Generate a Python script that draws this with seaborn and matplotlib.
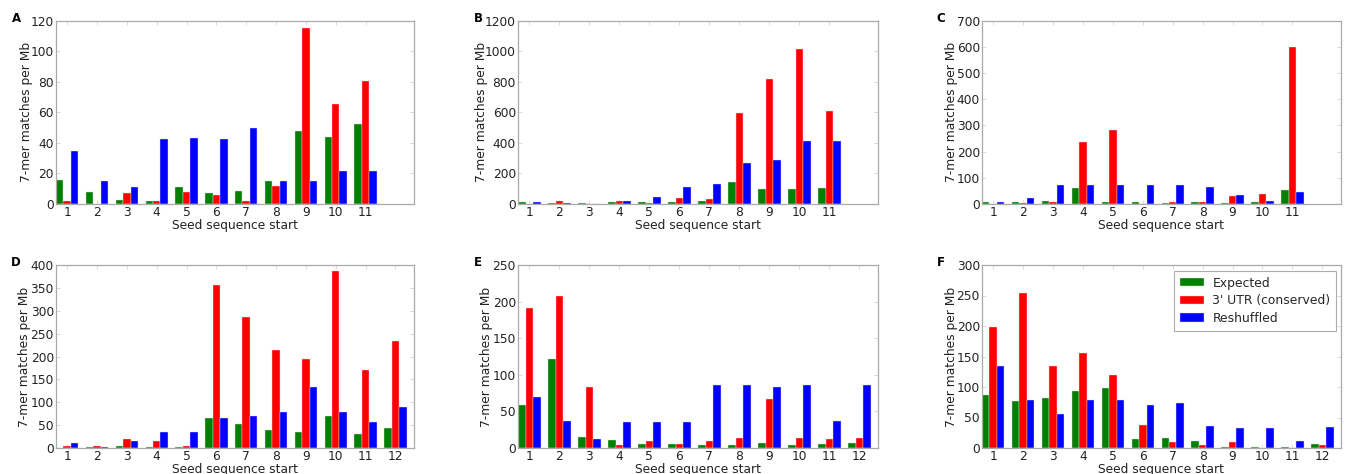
import numpy as np
import pandas as pd
import matplotlib
matplotlib.use("Agg")
import matplotlib.pyplot as plt
import seaborn as sns

series_names = ["Expected", "3' UTR (conserved)", "Reshuffled"]
colors = ["#008000", "#ff0000", "#0000ff"]

# Panel A
A_exp = [15.7, 8.1, 2.4, 2.0, 10.9, 7.0, 8.5, 14.8, 47.6, 43.9, 52.1]
A_utr = [2.0, 0.0, 7.2, 1.7, 7.9, 5.9, 1.7, 12.0, 115.0, 65.7, 80.3]
A_res = [34.9, 14.8, 10.9, 42.3, 43.0, 42.3, 49.5, 14.8, 14.8, 21.8, 21.8]
# Panel B
B_exp = [10, 6, 6, 12, 10, 10, 17, 142, 100, 98, 102]
B_utr = [2, 22, 0, 17, 6, 40, 30, 598, 820, 1012, 607]
B_res = [13, 6, 3, 17, 44, 109, 129, 266, 290, 412, 412]
# Panel C
C_exp = [9, 8, 11.5, 61, 6, 6, 5, 8, 5, 8, 54]
C_utr = [1, 5, 8, 237.5, 283.5, 1, 6, 8, 32, 40, 600]
C_res = [8, 24, 71.5, 71.5, 71.5, 71.5, 74, 64, 33, 13, 47]
# Panel D
D_exp = [1, 1.5, 3.6, 3, 1.5, 66, 53, 39, 35.6, 71, 31, 43]
D_utr = [4.4, 5, 19.6, 16, 4.4, 356, 286, 214.5, 195.6, 386, 171, 234]
D_res = [11.6, 3, 14.5, 34, 34, 66, 69, 78.5, 134, 78.5, 56, 89.5]
# Panel E
E_exp = [58.6, 122, 15.5, 11.4, 6, 6, 4.5, 4.5, 6.4, 4.5, 5, 6.4]
E_utr = [191, 208, 83, 3.6, 10, 5, 10, 13.6, 67, 13, 12.3, 13.6]
E_res = [70, 36.4, 12.3, 35, 35, 35, 85.5, 85.5, 84, 85.5, 37, 85.5]
# Panel F
F_exp = [86.7, 76.4, 81.8, 92.7, 97.6, 14.2, 17, 11.5, 1.6, 1, 1.6, 7]
F_utr = [199, 253.6, 134.7, 156, 120, 37.6, 9.8, 5.5, 9.8, 0, 0, 5]
F_res = [134.7, 78, 56.2, 78, 78, 69.8, 73.6, 36.5, 32.7, 32.7, 12, 34.4]

panel_letters = ["A", "B", "C", "D", "E", "F"]
panel_data = [(A_exp, A_utr, A_res), (B_exp, B_utr, B_res), (C_exp, C_utr, C_res),
              (D_exp, D_utr, D_res), (E_exp, E_utr, E_res), (F_exp, F_utr, F_res)]
y_max = [120, 1200, 700, 400, 250, 300]
y_step = [20, 200, 100, 50, 50, 50]

sns.set_theme(style="white")
plt.rcParams['font.family'] = ['DejaVu Sans']

W, H = 1346, 474
fig = plt.figure(figsize=(W / 100, H / 100), dpi=100)

lefts = [56, 518, 982]
widths = [358, 360, 359]
row_top = [20.7, 265]
row_bot = [204, 448]
letter_x = [16, 478, 941]
letter_y = [18, 263]
ylabel_x = [-0.083, -0.102, -0.086, -0.089, -0.088, -0.086]

fs_tick = 8.8
fs_lab = 8.8
for i, (letter, data) in enumerate(zip(panel_letters, panel_data)):
    r, c = divmod(i, 3)
    l = lefts[c] / W
    b = 1 - row_bot[r] / H
    w = widths[c] / W
    h = (row_bot[r] - row_top[r]) / H
    ax = fig.add_axes([l, b, w, h])
    n = len(data[0])
    cats = [str(k + 1) for k in range(n)]
    rows = []
    for s, vals in zip(series_names, data):
        for cat, v in zip(cats, vals):
            rows.append({"start": cat, "series": s, "value": v})
    df = pd.DataFrame(rows)
    sns.barplot(data=df, x="start", y="value", hue="series", order=cats,
                hue_order=series_names, palette=colors, width=0.75, gap=0,
                saturation=1, edgecolor="#e0e0e0", linewidth=0.3, ax=ax,
                legend=(letter == "F"))
    ax.set_xlim(-0.375, 11.625)
    ax.set_ylim(0, y_max[i])
    ax.set_yticks(np.arange(0, y_max[i] + 1, y_step[i]))
    ax.set_xlabel("Seed sequence start", fontsize=fs_lab, color="#222222", labelpad=0)
    ax.set_ylabel("7-mer matches per Mb", fontsize=fs_lab, color="#222222")
    ax.yaxis.label.set_va("center")
    ax.yaxis.set_label_coords(ylabel_x[i], 0.5)
    ax.tick_params(axis="both", labelsize=fs_tick, colors="#cccccc", labelcolor="#222222",
                   direction="in", length=3, width=0.5, pad=1.5, top=True, right=True,
                   bottom=True, left=True)
    for sp in ax.spines.values():
        sp.set_color("#aaaaaa")
        sp.set_linewidth(0.9)
    fig.text(letter_x[c] / W, 1 - letter_y[r] / H, letter, fontsize=8.5,
             fontweight="bold", ha="center", va="center", color="black")
    if letter == "F":
        leg = ax.legend(loc="upper right", fontsize=8.9, frameon=True, fancybox=False,
                        handlelength=2.0, handleheight=0.65, borderpad=0.45,
                        labelspacing=0.38, handletextpad=0.65, borderaxespad=0,
                        bbox_to_anchor=(1 - 5 / 359, 1 - 6 / 183))
        leg.get_frame().set_edgecolor("#999999")
        leg.get_frame().set_linewidth(0.8)
        leg.set_title(None)

fig.savefig("out.png", dpi=100)
